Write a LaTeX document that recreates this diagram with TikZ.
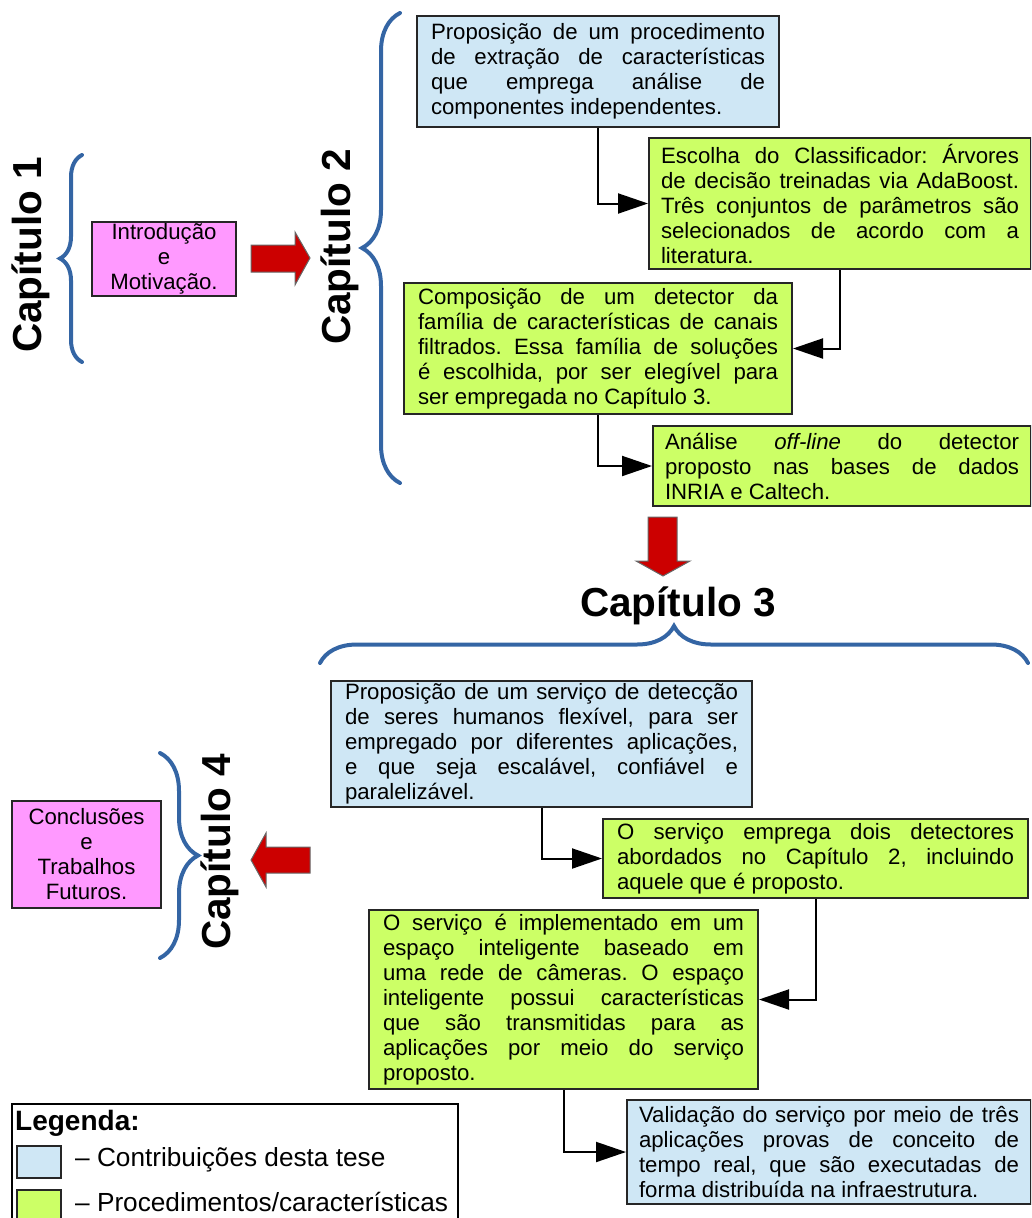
\documentclass[tikz,border=0pt]{standalone}
\usepackage{fontspec}
\setmainfont{Liberation Sans}
\usetikzlibrary{positioning, arrows.meta, decorations.pathreplacing}
\definecolor{contrib}{RGB}{207,231,245}
\definecolor{proced}{RGB}{204,255,102}
\definecolor{capbox}{RGB}{255,153,255}
\definecolor{bracecol}{RGB}{52,101,164}
\definecolor{bigred}{RGB}{204,0,0}
\frenchspacing

\begin{document}
\begin{tikzpicture}[x=1pt, y=-1pt, >={Triangle[length=30pt, width=20pt]},
  box/.style={draw=black!85, line width=2pt, anchor=north west, inner xsep=14pt, inner ysep=0pt, align=justify, font=\fontsize{22.2}{25}\selectfont},
  pinkbox/.style={draw=black!85, line width=2pt, fill=capbox, align=center, inner sep=0pt, font=\fontsize{22.2}{25}\selectfont},
  chapter/.style={inner sep=0pt, font=\bfseries\fontsize{40.5}{41}\selectfont},
  curly/.style={draw=bracecol, line width=4pt, line cap=round, decorate, decoration={brace, amplitude=#1}},
  conn/.style={->, line width=2pt},
  bigarrow/.style={fill=bigred, draw=black!60, line width=1pt},
  swatch/.style={draw=black!85, line width=2pt, minimum width=44pt, minimum height=32pt, inner sep=0pt},
  legtext/.style={inner sep=0pt, anchor=west, font=\fontsize{26.2}{28}\selectfont}]

\useasboundingbox (0,0) rectangle (1031,1218);
\clip (0,0) rectangle (1031,1218);

% Chapter 1
\node[chapter, rotate=90] (cap1) at (31,255) {Capítulo 1};
\draw[curly=22] (82,362) -- (82,155);
\node[pinkbox, minimum width=144pt, minimum height=74pt] (intro) at (164,259) {Introdução\\e\\Motivação.};
\filldraw[bigarrow] (251,245) -- (295,245) -- (295,232) -- (310,258) -- (295,285) -- (295,272) -- (251,272) -- cycle;

% Chapter 2
\node[chapter, rotate=90] (cap2) at (340,247) {Capítulo 2};
\draw[curly=38] (400,483) -- (400,13);
\node[box, fill=contrib, text width=334pt, minimum height=111pt] (a) at (416,15)
  {Proposição de um procedimento\linebreak de extração de características\linebreak que emprega análise de\linebreak componentes independentes.};
\node[box, fill=proced, inner xsep=12pt, text width=358pt, minimum height=131pt] (b) at (648,137)
  {Escolha do Classificador: Árvores\linebreak de decisão treinadas via AdaBoost.\linebreak Três conjuntos de parâmetros são\linebreak selecionados de acordo com a\linebreak literatura.};
\node[box, fill=proced, text width=360pt, minimum height=131pt] (c) at (403,282)
  {Composição de um detector da\linebreak família de características de canais\linebreak filtrados. Essa família de soluções\linebreak é escolhida, por ser elegível para\linebreak ser empregada no Capítulo 3.};
\node[box, fill=proced, inner xsep=12pt, text width=354pt, minimum height=80pt] (d) at (652,425)
  {Análise \textit{off-line} do detector\linebreak proposto nas bases de dados\linebreak INRIA e Caltech.};

\draw[conn] (a.south) |- (b.west);
\draw[conn] (b.south) |- (c.east);
\draw[conn] (c.south) |- (d.west);

\filldraw[bigarrow] (648,517) -- (677,517) -- (677,561) -- (690,561) -- (663,576) -- (636,561) -- (648,561) -- cycle;

% Chapter 3
\node[chapter] (cap3) at (678,606) {Capítulo 3};
\draw[curly=37] (320,663) -- (1028,663);
\node[box, fill=contrib, text width=393pt, minimum height=126pt] (e) at (330,680)
  {Proposição de um serviço de detecção\linebreak de seres humanos flexível, para ser\linebreak empregado por diferentes aplicações,\linebreak e que seja escalável, confiável e\linebreak paralelizável.};
\node[box, fill=proced, text width=397pt, minimum height=79pt] (f) at (602,818)
  {O serviço emprega dois detectores\linebreak abordados no Capítulo 2, incluindo\linebreak aquele que é proposto.};
\node[box, fill=proced, text width=361pt, minimum height=179pt] (g) at (368,909)
  {O serviço é implementado em um\linebreak espaço inteligente baseado em\linebreak uma rede de câmeras. O espaço\linebreak inteligente possui características\linebreak que são transmitidas para as\linebreak aplicações por meio do serviço\linebreak proposto.};
\node[box, fill=contrib, inner xsep=12pt, text width=380pt, minimum height=104pt] (h) at (626,1099)
  {Validação do serviço por meio de três\linebreak aplicações provas de conceito de\linebreak tempo real, que são executadas de\linebreak forma distribuída na infraestrutura.};

\draw[conn] (e.south) |- (f.west);
\draw[conn] (f.south) |- (g.east);
\draw[conn] (g.south) |- (h.west);

% Chapter 4
\filldraw[bigarrow] (310,847) -- (266,847) -- (266,833) -- (251,860) -- (266,887) -- (266,873) -- (310,873) -- cycle;
\node[chapter, rotate=90] (cap4) at (220,852) {Capítulo 4};
\draw[curly=38] (160,753) -- (160,958);
\node[pinkbox, minimum width=149pt, minimum height=107pt] (concl) at (86.5,854.5) {Conclusões\\e\\Trabalhos\\Futuros.};

% Legend
\draw[line width=2.5pt] (12,1225) |- (458,1104) -- (458,1225);
\node[anchor=west, inner sep=0pt, font=\bfseries\fontsize{28}{30}\selectfont] (legtitle) at (15,1123) {Legenda:};
\node[swatch, fill=contrib] (sw1) at (39,1162) {};
\node[swatch, fill=proced] (sw2) at (39,1206) {};
\node[legtext] (lt1) at (75,1160) {– Contribuições desta tese};
\node[legtext] (lt2) at (75,1202) {– Procedimentos/características};

\end{tikzpicture}
\end{document}
